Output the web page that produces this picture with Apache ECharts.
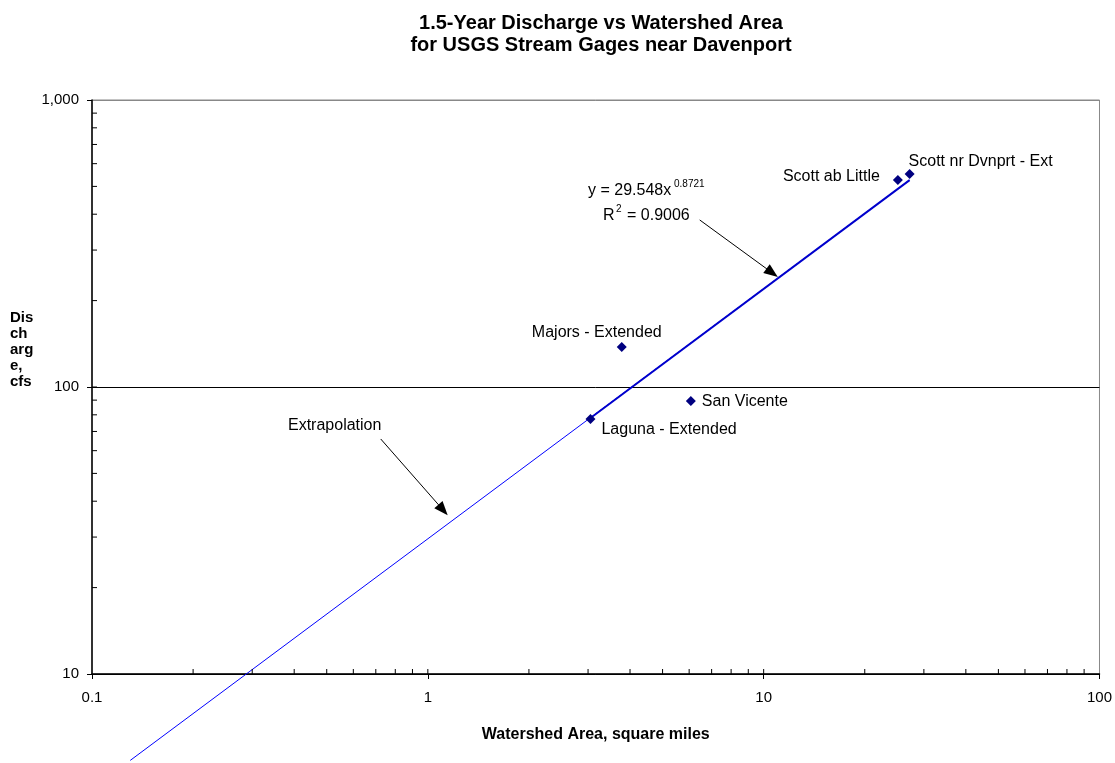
<!DOCTYPE html>
<html>
<head>
<meta charset="utf-8">
<script src="https://cdn.jsdelivr.net/npm/echarts@6/dist/echarts.min.js"></script>
<style>
  html, body { margin: 0; padding: 0; background: #fff; }
  #chart { width: 1115px; height: 763px; }
</style>
</head>
<body>
<div id="chart"></div>
<script>
// gage points
var gageNames = ['Laguna - Extended', 'Majors - Extended', 'San Vicente', 'Scott ab Little', 'Scott nr Dvnprt - Ext']
var gageArea = [3.05, 3.78, 6.07, 25.1, 27.2]        // square miles
var gageFlow = [77.4, 137.8, 89.3, 526, 552]        // cfs

// power trendline y = 29.548x^0.8721, endpoints as drawn
var trendThinX = [0.13, 27.2]
var trendThinY = [5.0, 526]
var trendThickX = [3.05, 27.2]
var trendThickY = [78, 526]

// minor ticks (log axis)
var xTickVals = [0.2, 0.3, 0.4, 0.5, 0.6, 0.7, 0.8, 0.9, 1, 2, 3, 4, 5, 6, 7, 8, 9, 10, 20, 30, 40, 50, 60, 70, 80, 90]
var yTickVals = [20, 30, 40, 50, 60, 70, 80, 90, 100, 200, 300, 400, 500, 600, 700, 800, 900]

// arrows [tail, head] in data units
var arrowEq = [[6.45, 382], [10.6, 250]]
var arrowExtrap = [[0.724, 65.9], [1.11, 37.3]]

var labelPos = [
    { position: 'right', offset: [1, 11] },
    { position: 'top', offset: [-25, 4] },
    { position: 'right', offset: [1, 0] },
    { position: 'left', offset: [-8, -3] },
    { position: 'right', offset: [-11, -12] }
]

const chart = echarts.init(document.getElementById('chart'))
const font = "'Liberation Sans', Arial, sans-serif"

let points = gageArea.map((x, i) => ({
    value: [x, gageFlow[i]],
    name: gageNames[i],
    label: Object.assign({ show: true, formatter: gageNames[i] }, labelPos[i])
}))

const tickSeries = (vals, isX) => ({
    type: 'custom',
    silent: true,
    clip: false,
    z: 5,
    data: vals.map(v => isX ? [v, 10] : [0.1, v]),
    renderItem: function (params, api) {
        let p = api.coord([api.value(0), api.value(1)])
        let shape = isX
            ? { x1: p[0], y1: p[1], x2: p[0], y2: p[1] - 5 }
            : { x1: p[0], y1: p[1], x2: p[0] + 5, y2: p[1] }
        return { type: 'line', shape: shape, style: { stroke: '#000', lineWidth: 1 } }
    }
})

const txt = (s, left, top, size) => ({
    type: 'text', left: left, top: top,
    style: { text: s, font: size + 'px ' + font, fill: '#000' }
})

const option = {
    animation: false,
    textStyle: { fontFamily: font },
    title: {
        text: '1.5-Year Discharge vs Watershed Area\nfor USGS Stream Gages near Davenport',
        left: 596,
        textAlign: 'center',
        top: 7,
        textStyle: { fontSize: 20, fontWeight: 'bold', color: '#000', lineHeight: 22, fontFamily: font }
    },
    grid: {
        left: 92, right: 15, top: 100, bottom: 89,
        show: true, borderColor: '#888', borderWidth: 1
    },
    xAxis: {
        type: 'log', logBase: 10, min: 0.1, max: 100,
        name: 'Watershed Area, square miles',
        nameLocation: 'middle', nameGap: 53,
        nameTextStyle: { fontSize: 16, fontWeight: 'bold', color: '#000' },
        axisLine: { show: true, lineStyle: { color: '#000', width: 1.5 } },
        axisTick: { show: true, length: 5, lineStyle: { color: '#000' } },
        axisLabel: {
            margin: 16, fontSize: 15, color: '#000',
            formatter: v => v < 1 ? String(v) : String(Math.round(v))
        },
        splitLine: { show: false }
    },
    yAxis: {
        type: 'log', logBase: 10, min: 10, max: 1000,
        axisLine: { show: true, lineStyle: { color: '#000', width: 1.5 } },
        axisTick: { show: true, length: 5, lineStyle: { color: '#000' } },
        axisLabel: {
            margin: 13, fontSize: 15, color: '#000',
            formatter: v => Math.round(v).toLocaleString('en-US')
        },
        splitLine: { show: true, lineStyle: { color: ['#000', '#000', '#888'], width: 1 } }
    },
    graphic: [
        {
            type: 'text', left: 10, top: 310,
            style: {
                text: 'Dis\nch\narg\ne,\ncfs', font: 'bold 15px ' + font,
                fill: '#000', lineHeight: 16
            }
        },
        txt('y = 29.548x', 588, 183, 16),
        txt('0.8721', 674, 179, 10),
        txt('R', 603, 208, 16),
        txt('2', 616, 204, 10),
        txt('= 0.9006', 627, 208, 16),
        txt('Extrapolation', 288, 418, 16)
    ],
    series: [
        {
            name: 'extrapolation',
            type: 'line',
            data: trendThinX.map((x, i) => [x, trendThinY[i]]),
            showSymbol: false,
            clip: false,
            lineStyle: { color: '#0000ff', width: 1 },
            z: 2,
            markLine: {
                silent: true,
                symbol: ['none', 'triangle'],
                symbolSize: [11, 14],
                label: { show: false },
                lineStyle: { color: '#000', width: 1, type: 'solid' },
                data: [
                    [{ coord: arrowEq[0] }, { coord: arrowEq[1] }],
                    [{ coord: arrowExtrap[0] }, { coord: arrowExtrap[1] }]
                ]
            }
        },
        {
            name: 'trend',
            type: 'line',
            data: trendThickX.map((x, i) => [x, trendThickY[i]]),
            showSymbol: false,
            lineStyle: { color: '#0000cc', width: 2 },
            z: 3
        },
        {
            name: 'gages',
            type: 'scatter',
            symbol: 'diamond',
            symbolSize: 10,
            itemStyle: { color: '#000080', opacity: 1 },
            label: { fontSize: 16, color: '#000', fontFamily: font },
            data: points,
            z: 4
        },
        tickSeries(xTickVals, true),
        tickSeries(yTickVals, false)
    ]
}
chart.setOption(option)
</script>
</body>
</html>
